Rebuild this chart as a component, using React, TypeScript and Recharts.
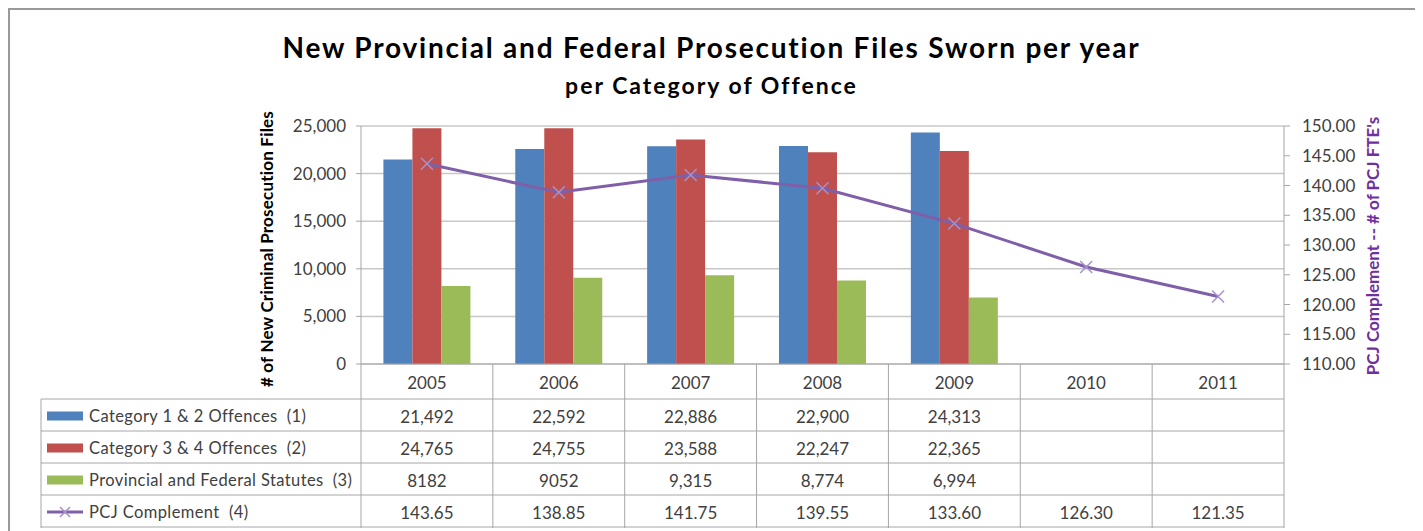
import React from 'react';
import { ComposedChart, Bar, Line, XAxis, YAxis, CartesianGrid } from 'recharts';

const YEARS = ['2005', '2006', '2007', '2008', '2009', '2010', '2011'];
const CAT_1_2 = [21492, 22592, 22886, 22900, 24313];
const CAT_3_4 = [24765, 24755, 23588, 22247, 22365];
const STATUTES = [8182, 9052, 9315, 8774, 6994];
const PCJ = [143.65, 138.85, 141.75, 139.55, 133.6, 126.3, 121.35];
const FILES_TICKS = [0, 5000, 10000, 15000, 20000, 25000];
const FTE_TICKS = [110, 115, 120, 125, 130, 135, 140, 145, 150];

const FONT = 'Lato, "Open Sans", sans-serif';
const TEXT = '#404040';
const TABLE_LINE = '#a6a6a6';
const BLUE = '#4f81bd';
const RED = '#c0504d';
const GREEN = '#9bbb59';
const PURPLE = '#7f5fa8';
const MARKER = '#a592cc';
const NUM_SIZE = 17;

const W = 1409;
const H = 535;
const PLOT_LEFT = 353;
const PLOT_RIGHT = 1276;
const PLOT_TOP = 118;
const PLOT_BOTTOM = 356;
const LEFT_AXIS_W = 100;
const RIGHT_AXIS_W = 110;
const HEADER_H = 35;
const ROW_H = 32;
const TABLE_BOTTOM = PLOT_BOTTOM + HEADER_H + ROW_H * 4 + 1;
const LEGEND_LEFT = 33;

const data = YEARS.map((year, i) => ({
  year,
  cat12: CAT_1_2[i] ?? null,
  cat34: CAT_3_4[i] ?? null,
  statutes: STATUTES[i] ?? null,
  pcj: PCJ[i] ?? null,
}));

const grouped = (v: number) => v.toLocaleString('en-US');

// the source table prints the first two statute counts without separators
const ROWS = [
  { key: 'cat12', label: 'Category 1 & 2 Offences  (1)', color: BLUE, fmt: (v: number) => grouped(v) },
  { key: 'cat34', label: 'Category 3 & 4 Offences  (2)', color: RED, fmt: (v: number) => grouped(v) },
  {
    key: 'statutes',
    label: 'Provincial and Federal Statutes  (3)',
    color: GREEN,
    fmt: (v: number, i: number) => (i < 2 ? String(v) : grouped(v)),
  },
  { key: 'pcj', label: 'PCJ Complement  (4)', color: PURPLE, fmt: (v: number) => v.toFixed(2), line: true },
];

const Cross = ({ cx, cy, r = 6 }: { cx: number; cy: number; r?: number }) => (
  <path
    d={`M${cx - r},${cy - r}L${cx + r},${cy + r}M${cx - r},${cy + r}L${cx + r},${cy - r}`}
    stroke={MARKER}
    strokeWidth={1.5}
    fill="none"
  />
);

const TableTick = (props: any) => {
  const { x, y, index } = props;
  const bw = (PLOT_RIGHT - PLOT_LEFT) / YEARS.length;
  const left = x - bw / 2;
  const right = left + bw;
  const bottom = TABLE_BOTTOM;
  const row = data[index];
  return (
    <g>
      <line x1={left} y1={y} x2={left} y2={bottom} stroke={TABLE_LINE} />
      {index === YEARS.length - 1 && <line x1={right} y1={y} x2={right} y2={bottom} stroke={TABLE_LINE} />}
      {[0, 1, 2, 3, 4].map((k) => {
        const ly = y + HEADER_H + k * ROW_H;
        return <line key={k} x1={left} y1={ly} x2={right} y2={ly} stroke={TABLE_LINE} />;
      })}
      <text x={x} y={y + HEADER_H / 2 + 1} textAnchor="middle" dominantBaseline="central" fill={TEXT} fontSize={NUM_SIZE} fontFamily={FONT}>
        {row.year}
      </text>
      {ROWS.map((r, k) => {
        const v = (row as any)[r.key];
        if (v == null) return null;
        return (
          <text
            key={r.key}
            x={x}
            y={y + HEADER_H + k * ROW_H + ROW_H / 2 + 1}
            textAnchor="middle"
            dominantBaseline="central"
            fill={TEXT}
            fontSize={NUM_SIZE}
            fontFamily={FONT}
          >
            {r.fmt(v, index)}
          </text>
        );
      })}
    </g>
  );
};

const LegendColumn = () => {
  const top = PLOT_BOTTOM + HEADER_H;
  return (
    <g>
      <line x1={LEGEND_LEFT} y1={top} x2={PLOT_LEFT} y2={top} stroke={TABLE_LINE} />
      <line x1={LEGEND_LEFT} y1={top} x2={LEGEND_LEFT} y2={TABLE_BOTTOM} stroke={TABLE_LINE} />
      {ROWS.map((r, k) => {
        const cy = top + k * ROW_H + ROW_H / 2 + 1;
        return (
          <g key={r.key}>
            <line x1={LEGEND_LEFT} y1={top + (k + 1) * ROW_H} x2={PLOT_LEFT} y2={top + (k + 1) * ROW_H} stroke={TABLE_LINE} />
            {r.line ? (
              <g>
                <line x1={39} y1={cy} x2={75} y2={cy} stroke={PURPLE} strokeWidth={3} />
                <Cross cx={57} cy={cy} r={5} />
              </g>
            ) : (
              <rect x={39} y={cy - 4.5} width={36} height={9} fill={r.color} />
            )}
            <text
              x={81}
              y={cy}
              dominantBaseline="central"
              fill={TEXT}
              fontSize={16.5}
              letterSpacing={0.4}
              fontFamily={FONT}
              style={{ whiteSpace: 'pre' }}
            >
              {r.label}
            </text>
          </g>
        );
      })}
    </g>
  );
};

export default function App() {
  return (
    <div style={{ position: 'relative', width: W, height: H }}>
      <ComposedChart
        width={W}
        height={H}
        data={data}
        margin={{
          top: PLOT_TOP,
          right: W - PLOT_RIGHT - RIGHT_AXIS_W,
          bottom: H - TABLE_BOTTOM,
          left: PLOT_LEFT - LEFT_AXIS_W,
        }}
        barCategoryGap="17%"
        barGap={0}
      >
        <CartesianGrid yAxisId="files" vertical={false} stroke="#c8c8c8" strokeWidth={1.5} />
        <XAxis
          dataKey="year"
          height={TABLE_BOTTOM - PLOT_BOTTOM}
          tickLine={false}
          tickSize={0}
          tickMargin={0}
          axisLine={{ stroke: TABLE_LINE }}
          interval={0}
          tick={<TableTick />}
        />
        <YAxis
          yAxisId="files"
          width={LEFT_AXIS_W}
          domain={[0, 25000]}
          ticks={FILES_TICKS}
          tickFormatter={grouped}
          tick={{ fill: TEXT, fontSize: NUM_SIZE, fontFamily: FONT }}
          tickSize={5}
          tickMargin={10}
          tickLine={{ stroke: TABLE_LINE }}
          axisLine={{ stroke: TABLE_LINE }}
          label={{
            content: ({ viewBox }: any) => (
              <text
                transform={`translate(${viewBox.x + 5}, ${viewBox.y + viewBox.height / 2 + 4}) rotate(-90)`}
                textAnchor="middle"
                dominantBaseline="central"
                fontWeight="bold"
                fontSize={17}
                letterSpacing={0.2}
                fontFamily={FONT}
                fill="#000"
              >
                # of New Criminal Prosecution Files
              </text>
            ),
          }}
        />
        <YAxis
          yAxisId="fte"
          orientation="right"
          width={RIGHT_AXIS_W}
          domain={[110, 150]}
          ticks={FTE_TICKS}
          tickFormatter={(v: number) => v.toFixed(2)}
          tick={{ fill: TEXT, fontSize: NUM_SIZE, fontFamily: FONT }}
          tickSize={6}
          tickMargin={12}
          tickLine={{ stroke: TABLE_LINE }}
          axisLine={{ stroke: TABLE_LINE }}
          label={{
            content: ({ viewBox }: any) => (
              <text
                transform={`translate(${viewBox.x + 88}, ${viewBox.y + viewBox.height / 2 + 1}) rotate(-90)`}
                textAnchor="middle"
                dominantBaseline="central"
                fontWeight="bold"
                fontSize={17}
                fontFamily={FONT}
                fill="#7030a0"
              >
                PCJ Complement -- # of PCJ FTE's
              </text>
            ),
          }}
        />
        <Bar yAxisId="files" dataKey="cat12" fill={BLUE} isAnimationActive={false} />
        <Bar yAxisId="files" dataKey="cat34" fill={RED} isAnimationActive={false} />
        <Bar yAxisId="files" dataKey="statutes" fill={GREEN} isAnimationActive={false} />
        <Line
          yAxisId="fte"
          dataKey="pcj"
          stroke={PURPLE}
          strokeWidth={3}
          dot={(p: any) => <Cross key={p.index} cx={p.cx} cy={p.cy} />}
          isAnimationActive={false}
        />
      </ComposedChart>
      <svg width={W} height={H} style={{ position: 'absolute', left: 0, top: 0, pointerEvents: 'none' }}>
        <text
          x={703.5}
          y={38.5}
          textAnchor="middle"
          dominantBaseline="central"
          fontWeight="bold"
          fontSize={28}
          letterSpacing={1.8}
          fontFamily={FONT}
          fill="#000"
        >
          New Provincial and Federal Prosecution Files Sworn per year
        </text>
        <text
          x={703.5}
          y={77}
          textAnchor="middle"
          dominantBaseline="central"
          fontWeight="bold"
          fontSize={23}
          letterSpacing={2}
          fontFamily={FONT}
          fill="#000"
        >
          per Category of Offence
        </text>
        <LegendColumn />
      </svg>
      <div
        style={{
          position: 'absolute',
          left: 0,
          top: 0,
          width: W,
          height: H + 10,
          border: '2px solid #999',
          boxSizing: 'border-box',
          pointerEvents: 'none',
        }}
      />
    </div>
  );
}
